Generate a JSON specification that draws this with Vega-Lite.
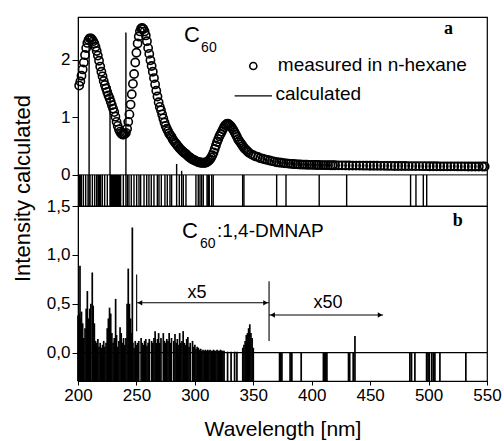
{
  "$schema": "https://vega.github.io/schema/vega-lite/v6.json",
  "padding": {"left": 10, "top": 16, "right": 4, "bottom": 0},
  "spacing": 0,
  "bounds": "flush",
  "config": {
    "font": "Liberation Sans",
    "view": {"stroke": "black", "strokeWidth": 1.2},
    "axis": {"domainColor": "black", "tickColor": "black", "labelColor": "black", "titleColor": "black", "labelFont": "Liberation Sans", "titleFont": "Liberation Sans", "grid": false, "labelFontSize": 17, "titleFontWeight": "normal", "titleFontSize": 22, "tickSize": 6, "labelPadding": 2, "labelFlush": false, "labelOverlap": false}
  },
  "datasets": {
    "meas": [
      {"wl":201,"v":1.55},{"wl":202,"v":1.62},{"wl":203,"v":1.72},{"wl":204,"v":1.83},{"wl":205,"v":1.95},{"wl":206,"v":2.08},{"wl":207,"v":2.2},{"wl":208,"v":2.29},{"wl":209,"v":2.34},{"wl":210,"v":2.37},
      {"wl":211,"v":2.37},{"wl":212,"v":2.35},{"wl":213,"v":2.32},{"wl":214,"v":2.28},{"wl":215,"v":2.22},{"wl":216,"v":2.15},{"wl":217,"v":2.07},{"wl":218,"v":1.98},{"wl":219,"v":1.88},{"wl":220,"v":1.79},
      {"wl":221,"v":1.71},{"wl":222,"v":1.63},{"wl":223,"v":1.56},{"wl":224,"v":1.5},{"wl":225,"v":1.44},{"wl":226,"v":1.38},{"wl":227,"v":1.33},{"wl":228,"v":1.27},{"wl":229,"v":1.21},{"wl":230,"v":1.15},
      {"wl":231,"v":1.09},{"wl":232,"v":1.01},{"wl":233,"v":0.92},{"wl":234,"v":0.85},{"wl":235,"v":0.79},{"wl":236,"v":0.75},{"wl":237,"v":0.72},{"wl":238,"v":0.7},{"wl":239,"v":0.7},{"wl":240,"v":0.71},
      {"wl":241,"v":0.73},{"wl":242,"v":0.8},{"wl":243,"v":0.92},{"wl":244,"v":1.05},{"wl":245,"v":1.22},{"wl":246,"v":1.4},{"wl":247,"v":1.58},{"wl":248,"v":1.75},{"wl":249,"v":1.95},{"wl":250,"v":2.12},
      {"wl":251,"v":2.28},{"wl":252,"v":2.4},{"wl":253,"v":2.49},{"wl":254,"v":2.54},{"wl":255,"v":2.55},{"wl":256,"v":2.53},{"wl":257,"v":2.49},{"wl":258,"v":2.42},{"wl":259,"v":2.32},{"wl":260,"v":2.2},
      {"wl":261,"v":2.1},{"wl":262,"v":1.99},{"wl":263,"v":1.89},{"wl":264,"v":1.79},{"wl":265,"v":1.68},{"wl":266,"v":1.57},{"wl":267,"v":1.46},{"wl":268,"v":1.36},{"wl":269,"v":1.26},{"wl":270,"v":1.18},
      {"wl":271,"v":1.12},{"wl":272,"v":1.05},{"wl":273,"v":0.98},{"wl":274,"v":0.91},{"wl":275,"v":0.85},{"wl":276,"v":0.8},{"wl":277,"v":0.76},{"wl":278,"v":0.72},{"wl":279,"v":0.69},{"wl":280,"v":0.66},
      {"wl":281,"v":0.62},{"wl":282,"v":0.59},{"wl":283,"v":0.56},{"wl":284,"v":0.54},{"wl":285,"v":0.51},{"wl":286,"v":0.49},{"wl":287,"v":0.46},{"wl":288,"v":0.44},{"wl":289,"v":0.42},{"wl":290,"v":0.4},
      {"wl":291,"v":0.38},{"wl":292,"v":0.37},{"wl":293,"v":0.35},{"wl":294,"v":0.33},{"wl":295,"v":0.31},{"wl":296,"v":0.3},{"wl":297,"v":0.28},{"wl":298,"v":0.27},{"wl":299,"v":0.26},{"wl":300,"v":0.25},
      {"wl":301,"v":0.24},{"wl":302,"v":0.23},{"wl":303,"v":0.22},{"wl":304,"v":0.22},{"wl":305,"v":0.21},{"wl":306,"v":0.21},{"wl":307,"v":0.21},{"wl":308,"v":0.21},{"wl":309,"v":0.21},{"wl":310,"v":0.22},
      {"wl":311,"v":0.23},{"wl":312,"v":0.25},{"wl":313,"v":0.27},{"wl":314,"v":0.3},{"wl":315,"v":0.34},{"wl":316,"v":0.39},{"wl":317,"v":0.45},{"wl":318,"v":0.51},{"wl":319,"v":0.57},{"wl":320,"v":0.62},
      {"wl":321,"v":0.67},{"wl":322,"v":0.71},{"wl":323,"v":0.75},{"wl":324,"v":0.79},{"wl":325,"v":0.83},{"wl":326,"v":0.86},{"wl":327,"v":0.88},{"wl":328,"v":0.89},{"wl":329,"v":0.88},{"wl":330,"v":0.86},
      {"wl":331,"v":0.84},{"wl":332,"v":0.81},{"wl":333,"v":0.78},{"wl":334,"v":0.74},{"wl":335,"v":0.7},{"wl":336,"v":0.66},{"wl":337,"v":0.62},{"wl":338,"v":0.59},{"wl":339,"v":0.56},{"wl":340,"v":0.53},
      {"wl":341,"v":0.5},{"wl":342,"v":0.47},{"wl":343,"v":0.45},{"wl":344,"v":0.43},{"wl":345,"v":0.41},{"wl":346,"v":0.39},{"wl":348,"v":0.36},{"wl":350,"v":0.34},{"wl":352,"v":0.32},{"wl":354,"v":0.31},
      {"wl":356,"v":0.29},{"wl":358,"v":0.28},{"wl":360,"v":0.27},{"wl":362,"v":0.26},{"wl":364,"v":0.25},{"wl":366,"v":0.24},{"wl":368,"v":0.23},{"wl":370,"v":0.22},{"wl":372,"v":0.215},{"wl":374,"v":0.21},
      {"wl":376,"v":0.205},{"wl":378,"v":0.2},{"wl":380,"v":0.196},{"wl":382,"v":0.192},{"wl":384,"v":0.189},{"wl":386,"v":0.186},{"wl":388,"v":0.183},{"wl":390,"v":0.181},{"wl":392,"v":0.179},{"wl":394,"v":0.177},
      {"wl":396,"v":0.176},{"wl":398,"v":0.175},{"wl":400,"v":0.174},{"wl":402,"v":0.173},{"wl":404,"v":0.172},{"wl":406,"v":0.171},{"wl":408,"v":0.17},{"wl":410,"v":0.17},{"wl":412,"v":0.169},{"wl":414,"v":0.169},
      {"wl":416,"v":0.168},{"wl":418,"v":0.168},{"wl":420,"v":0.167},{"wl":423,"v":0.166},{"wl":426,"v":0.165},{"wl":429,"v":0.164},{"wl":432,"v":0.163},{"wl":435,"v":0.162},{"wl":438,"v":0.161},{"wl":441,"v":0.161},
      {"wl":444,"v":0.16},{"wl":447,"v":0.16},{"wl":450,"v":0.159},{"wl":453,"v":0.158},{"wl":456,"v":0.158},{"wl":459,"v":0.157},{"wl":462,"v":0.157},{"wl":465,"v":0.156},{"wl":468,"v":0.156},{"wl":471,"v":0.155},
      {"wl":474,"v":0.155},{"wl":477,"v":0.154},{"wl":480,"v":0.154},{"wl":483,"v":0.153},{"wl":486,"v":0.153},{"wl":489,"v":0.152},{"wl":492,"v":0.152},{"wl":495,"v":0.151},{"wl":498,"v":0.151},{"wl":501,"v":0.15},
      {"wl":504,"v":0.15},{"wl":507,"v":0.15},{"wl":510,"v":0.149},{"wl":513,"v":0.149},{"wl":516,"v":0.148},{"wl":519,"v":0.148},{"wl":522,"v":0.148},{"wl":525,"v":0.147},{"wl":528,"v":0.147},{"wl":531,"v":0.147},
      {"wl":534,"v":0.146},{"wl":537,"v":0.146},{"wl":540,"v":0.146},{"wl":543,"v":0.145},{"wl":546,"v":0.145},{"wl":548,"v":0.145}
    ],
    "sticksA": [
      {"wl":200.9,"h":0},{"wl":201.4,"h":0},{"wl":201.9,"h":0},{"wl":202.9,"h":0},{"wl":204.6,"h":0},{"wl":206.6,"h":0},{"wl":208.6,"h":0},{"wl":209.5,"h":2.36},{"wl":210.3,"h":0},{"wl":212.3,"h":0},{"wl":214.3,"h":0},
      {"wl":216,"h":0},{"wl":217.1,"h":0},{"wl":217.7,"h":0},{"wl":218.3,"h":0},{"wl":218.9,"h":0},{"wl":219.4,"h":0},{"wl":220.8,"h":0},{"wl":222.8,"h":0},{"wl":225.1,"h":0},{"wl":227.4,"h":1.54},{"wl":227.9,"h":0},{"wl":228.5,"h":0},{"wl":229.1,"h":0},{"wl":229.7,"h":0},
      {"wl":230.2,"h":0},{"wl":230.8,"h":0},{"wl":231.3,"h":0},{"wl":231.9,"h":0},{"wl":232.5,"h":0},{"wl":233.1,"h":0},{"wl":233.6,"h":0},{"wl":234.2,"h":0},{"wl":234.7,"h":0},{"wl":235.1,"h":0},{"wl":235.7,"h":0},{"wl":236.5,"h":0},{"wl":238.8,"h":0},{"wl":241,"h":2.47},{"wl":242.2,"h":0},{"wl":243.6,"h":0},
      {"wl":245.6,"h":0},{"wl":247.9,"h":0},{"wl":250.2,"h":0},{"wl":252.2,"h":0},{"wl":253.6,"h":0},{"wl":256.5,"h":0},{"wl":258.8,"h":0},{"wl":260.7,"h":0},{"wl":262.7,"h":0},{"wl":265,"h":0},
      {"wl":267.9,"h":0},{"wl":269.3,"h":0},{"wl":271.3,"h":0},{"wl":274.4,"h":0},{"wl":276.4,"h":0},{"wl":278.7,"h":0},{"wl":280.1,"h":0},{"wl":284.4,"h":0.19},{"wl":286.7,"h":0},{"wl":288.7,"h":0.07},
      {"wl":290.1,"h":0},{"wl":292.4,"h":0},{"wl":300.9,"h":0},{"wl":302.9,"h":0},{"wl":304.4,"h":0},{"wl":305.8,"h":0},{"wl":307.2,"h":0},{"wl":310.4,"h":0},{"wl":311.2,"h":0},{"wl":311.8,"h":0},{"wl":312.3,"h":0},
      {"wl":314.4,"h":0},{"wl":315.7,"h":0},{"wl":340.9,"h":0},{"wl":342,"h":0},{"wl":370,"h":0},{"wl":378,"h":0},{"wl":406.4,"h":0},{"wl":429.9,"h":0},{"wl":484.6,"h":0},{"wl":489.2,"h":0},
      {"wl":495.5,"h":0},{"wl":498.4,"h":0}
    ],
    "sticksB": [
      {"wl":200,"h":0.38},{"wl":200.6,"h":0.36},{"wl":201.2,"h":0.4},{"wl":201.7,"h":0.89},{"wl":202.3,"h":0.35},{"wl":203,"h":0.42},{"wl":204,"h":0.3},{"wl":205,"h":0.15},{"wl":206,"h":0.25},{"wl":207,"h":0.45},
      {"wl":208,"h":0.63},{"wl":209,"h":0.35},{"wl":210,"h":0.45},{"wl":211,"h":0.5},{"wl":212.2,"h":0.82},{"wl":213,"h":0.48},{"wl":214,"h":0.3},{"wl":215,"h":0.12},{"wl":216,"h":0.1},{"wl":217,"h":0.14},
      {"wl":218,"h":0.06},{"wl":219,"h":0.1},{"wl":220,"h":0.05},{"wl":221,"h":0.08},{"wl":222,"h":0.12},{"wl":223,"h":0.06},{"wl":224,"h":0.1},{"wl":225,"h":0.25},{"wl":226,"h":0.35},{"wl":227,"h":0.46},
      {"wl":228,"h":0.4},{"wl":229,"h":0.2},{"wl":230,"h":0.1},{"wl":231,"h":0.15},{"wl":232.2,"h":0.55},{"wl":233,"h":0.18},{"wl":234,"h":0.06},{"wl":235,"h":0.12},{"wl":236,"h":0.26},{"wl":237,"h":0.2},
      {"wl":238,"h":0.1},{"wl":239,"h":0.15},{"wl":240,"h":0.08},{"wl":241,"h":0.15},{"wl":242,"h":0.5},{"wl":243,"h":0.86},{"wl":244,"h":0.5},{"wl":245,"h":0.35},{"wl":246,"h":0.2},{"wl":246.5,"h":1.28},
      {"wl":247,"h":0.1},{"wl":248,"h":0.05},{"wl":249,"h":0.12},{"wl":250,"h":0.08},{"wl":251,"h":0.1},{"wl":252,"h":0.12},{"wl":254,"h":0.15},{"wl":255,"h":0.1},{"wl":256,"h":0.08},{"wl":257,"h":0.12},
      {"wl":258,"h":0.14},{"wl":259,"h":0.07},{"wl":260,"h":0.1},{"wl":261,"h":0.14},{"wl":263,"h":0.12},{"wl":264,"h":0.1},{"wl":265,"h":0.15},{"wl":266,"h":0.22},{"wl":267,"h":0.1},{"wl":268,"h":0.14},
      {"wl":269,"h":0.2},{"wl":270,"h":0.1},{"wl":271,"h":0.15},{"wl":273,"h":0.2},{"wl":274,"h":0.12},{"wl":275,"h":0.1},{"wl":276,"h":0.14},{"wl":277,"h":0.12},{"wl":278,"h":0.2},{"wl":279,"h":0.1},
      {"wl":280,"h":0.15},{"wl":282,"h":0.12},{"wl":283,"h":0.19},{"wl":284,"h":0.1},{"wl":285,"h":0.14},{"wl":286,"h":0.08},{"wl":287,"h":0.2},{"wl":288,"h":0.1},{"wl":289,"h":0.12},{"wl":290,"h":0.22},
      {"wl":291,"h":0.1},{"wl":292,"h":0.08},{"wl":293,"h":0.14},{"wl":294,"h":0.16},{"wl":295,"h":0.06},{"wl":296,"h":0.1},{"wl":298,"h":0.12},{"wl":299,"h":0.06},{"wl":300,"h":0.08},{"wl":301,"h":0.04},
      {"wl":302,"h":0.06},{"wl":303,"h":0.05},{"wl":304,"h":0.03},{"wl":305,"h":0.04},{"wl":306,"h":0.02},{"wl":307,"h":0.03},{"wl":308,"h":0.02},{"wl":309,"h":0.03},{"wl":310,"h":0.02},{"wl":311,"h":0.03},
      {"wl":312,"h":0.02},{"wl":313,"h":0.03},{"wl":314,"h":0.02},{"wl":315,"h":0.02},{"wl":316,"h":0.03},{"wl":317,"h":0.02},{"wl":318,"h":0.02},{"wl":319,"h":0.03},{"wl":320,"h":0.02},{"wl":321,"h":0.02},
      {"wl":322,"h":0.03},{"wl":323,"h":0.02},{"wl":324,"h":0.02},{"wl":325,"h":0.02},{"wl":328,"h":0.01},{"wl":331,"h":0.01},{"wl":334,"h":0.01},{"wl":336,"h":0.01},{"wl":341,"h":0.05},{"wl":342,"h":0.08},
      {"wl":343,"h":0.12},{"wl":344,"h":0.18},{"wl":345,"h":0.2},{"wl":346,"h":0.25},{"wl":347,"h":0.29},{"wl":348,"h":0.2},{"wl":349,"h":0.15},{"wl":350,"h":0.05},
      {"wl":372.5,"h":0},{"wl":373.5,"h":0},{"wl":374.5,"h":0},{"wl":381.5,"h":0},{"wl":383,"h":0},{"wl":391,"h":0},{"wl":410,"h":0},{"wl":411,"h":0},{"wl":412,"h":0},{"wl":413,"h":0},
      {"wl":431.5,"h":0},{"wl":432.5,"h":0},{"wl":435.5,"h":0},{"wl":437,"h":0.17},{"wl":484,"h":0},{"wl":485.4,"h":0},{"wl":488.3,"h":0},{"wl":498.3,"h":0},{"wl":499.5,"h":0},{"wl":500.5,"h":0},
      {"wl":502.6,"h":0},{"wl":504,"h":0},{"wl":505.4,"h":0},{"wl":509.7,"h":0},{"wl":531.9,"h":0}
    ]
  },
  "vconcat": [
    {
      "width": 409,
      "height": 189,
      "layer": [
        {
          "data": {"values": [{"a": 200, "b": 550, "v": 0}]},
          "mark": {"type": "rule", "color": "black", "strokeWidth": 1},
          "encoding": {
            "x": {"field": "a", "type": "quantitative", "scale": {"domain": [200, 550], "nice": false, "zero": false}, "axis": null},
            "x2": {"field": "b"},
            "y": {"field": "v", "type": "quantitative", "scale": {"domain": [-0.54, 2.74], "nice": false, "zero": false}, "axis": {"values": [0, 1, 2], "format": "d", "title": null}}
          }
        },
        {
          "data": {"name": "sticksA"},
          "mark": {"type": "rule", "color": "black", "strokeWidth": 1.4},
          "encoding": {
            "x": {"field": "wl", "type": "quantitative"},
            "y": {"field": "h", "type": "quantitative"},
            "y2": {"datum": -0.54}
          }
        },
        {
          "data": {"name": "meas"},
          "mark": {"type": "point", "shape": "circle", "filled": false, "color": "black", "size": 68, "strokeWidth": 1.6, "opacity": 1},
          "encoding": {
            "x": {"field": "wl", "type": "quantitative"},
            "y": {"field": "v", "type": "quantitative"}
          }
        },
        {
          "data": {"values": [{"wl": 350, "v": 1.89}]},
          "mark": {"type": "point", "shape": "circle", "filled": false, "color": "black", "size": 50, "strokeWidth": 1.6, "opacity": 1},
          "encoding": {
            "x": {"field": "wl", "type": "quantitative"},
            "y": {"field": "v", "type": "quantitative"}
          }
        },
        {
          "data": {"values": [{"a": 334, "b": 366, "v": 1.37}]},
          "mark": {"type": "rule", "color": "black", "strokeWidth": 1.2},
          "encoding": {
            "x": {"field": "a", "type": "quantitative"},
            "x2": {"field": "b"},
            "y": {"field": "v", "type": "quantitative"}
          }
        },
        {
          "data": {"values": [{"wl": 371, "v": 1.9, "t": "measured in n-hexane"}, {"wl": 369, "v": 1.41, "t": "calculated"}]},
          "mark": {"type": "text", "align": "left", "baseline": "middle", "fontSize": 19, "font": "Liberation Sans", "color": "black"},
          "encoding": {
            "x": {"field": "wl", "type": "quantitative"},
            "y": {"field": "v", "type": "quantitative"},
            "text": {"field": "t"}
          }
        },
        {
          "data": {"values": [{"wl": 297.5, "v": 2.43, "t": "C"}]},
          "mark": {"type": "text", "align": "center", "baseline": "middle", "fontSize": 22, "font": "Liberation Sans", "color": "black"},
          "encoding": {
            "x": {"field": "wl", "type": "quantitative"},
            "y": {"field": "v", "type": "quantitative"},
            "text": {"field": "t"}
          }
        },
        {
          "data": {"values": [{"wl": 312, "v": 2.2, "t": "60"}]},
          "mark": {"type": "text", "align": "center", "baseline": "middle", "fontSize": 14, "font": "Liberation Sans", "color": "black"},
          "encoding": {
            "x": {"field": "wl", "type": "quantitative"},
            "y": {"field": "v", "type": "quantitative"},
            "text": {"field": "t"}
          }
        },
        {
          "data": {"values": [{"wl": 517, "v": 2.53, "t": "a"}]},
          "mark": {"type": "text", "align": "center", "baseline": "middle", "fontSize": 18, "font": "Liberation Serif", "fontWeight": "bold", "color": "black"},
          "encoding": {
            "x": {"field": "wl", "type": "quantitative"},
            "y": {"field": "v", "type": "quantitative"},
            "text": {"field": "t"}
          }
        }
      ]
    },
    {
      "width": 409,
      "height": 175,
      "layer": [
        {
          "data": {"values": [{"a": 200, "b": 550, "v": 0}]},
          "mark": {"type": "rule", "color": "black", "strokeWidth": 1.2},
          "encoding": {
            "x": {"field": "a", "type": "quantitative", "scale": {"domain": [200, 550], "nice": false, "zero": false},
                  "axis": {"values": [200, 225, 250, 275, 300, 325, 350, 375, 400, 425, 450, 475, 500, 525, 550], "labelExpr": "datum.value % 50 == 0 ? datum.label : ''", "tickSize": 4, "labelFontSize": 17, "title": "Wavelength [nm]", "titleFontSize": 21, "titlePadding": 15}},
            "x2": {"field": "b"},
            "y": {"field": "v", "type": "quantitative", "scale": {"domain": [-0.29, 1.5], "nice": false, "zero": false},
                  "axis": {"values": [0, 0.5, 1, 1.5], "labelExpr": "replace(format(datum.value, '.1f'), '.', ',')", "title": "Intensity calculated", "titleY": -18, "titlePadding": 12}}
          }
        },
        {
          "data": {"name": "sticksB"},
          "mark": {"type": "rule", "color": "black", "strokeWidth": 1.7},
          "encoding": {
            "x": {"field": "wl", "type": "quantitative"},
            "y": {"field": "h", "type": "quantitative"},
            "y2": {"datum": -0.29}
          }
        },
        {
          "data": {"values": [{"a": 250, "b": 363.5, "v": 0.51}, {"a": 363.5, "b": 461, "v": 0.385}]},
          "mark": {"type": "rule", "color": "black", "strokeWidth": 1.1},
          "encoding": {
            "x": {"field": "a", "type": "quantitative"},
            "x2": {"field": "b"},
            "y": {"field": "v", "type": "quantitative"}
          }
        },
        {
          "data": {"values": [{"wl": 250.2, "lo": 0.22, "hi": 0.8}, {"wl": 363.5, "lo": 0.12, "hi": 0.73}]},
          "mark": {"type": "rule", "color": "black", "strokeWidth": 1.1},
          "encoding": {
            "x": {"field": "wl", "type": "quantitative"},
            "y": {"field": "lo", "type": "quantitative"},
            "y2": {"field": "hi"}
          }
        },
        {
          "data": {"values": [{"wl": 253, "v": 0.51, "s": "triangle-left"}, {"wl": 360.5, "v": 0.51, "s": "triangle-right"}, {"wl": 366.5, "v": 0.385, "s": "triangle-left"}, {"wl": 458.5, "v": 0.385, "s": "triangle-right"}]},
          "mark": {"type": "point", "filled": true, "color": "black", "size": 28, "opacity": 1},
          "encoding": {
            "x": {"field": "wl", "type": "quantitative"},
            "y": {"field": "v", "type": "quantitative"},
            "shape": {"field": "s", "type": "nominal", "scale": null, "legend": null}
          }
        },
        {
          "data": {"values": [{"wl": 301.8, "v": 0.61, "t": "x5"}, {"wl": 414, "v": 0.51, "t": "x50"}]},
          "mark": {"type": "text", "align": "center", "baseline": "middle", "fontSize": 18, "font": "Liberation Sans", "color": "black"},
          "encoding": {
            "x": {"field": "wl", "type": "quantitative"},
            "y": {"field": "v", "type": "quantitative"},
            "text": {"field": "t"}
          }
        },
        {
          "data": {"values": [{"wl": 295.8, "v": 1.24, "t": "C"}]},
          "mark": {"type": "text", "align": "center", "baseline": "middle", "fontSize": 22, "font": "Liberation Sans", "color": "black"},
          "encoding": {
            "x": {"field": "wl", "type": "quantitative"},
            "y": {"field": "v", "type": "quantitative"},
            "text": {"field": "t"}
          }
        },
        {
          "data": {"values": [{"wl": 311, "v": 1.11, "t": "60"}]},
          "mark": {"type": "text", "align": "center", "baseline": "middle", "fontSize": 14, "font": "Liberation Sans", "color": "black"},
          "encoding": {
            "x": {"field": "wl", "type": "quantitative"},
            "y": {"field": "v", "type": "quantitative"},
            "text": {"field": "t"}
          }
        },
        {
          "data": {"values": [{"wl": 318.9, "v": 1.24, "t": ":1,4-DMNAP"}]},
          "mark": {"type": "text", "align": "left", "baseline": "middle", "fontSize": 19, "font": "Liberation Sans", "color": "black"},
          "encoding": {
            "x": {"field": "wl", "type": "quantitative"},
            "y": {"field": "v", "type": "quantitative"},
            "text": {"field": "t"}
          }
        },
        {
          "data": {"values": [{"wl": 525, "v": 1.35, "t": "b"}]},
          "mark": {"type": "text", "align": "center", "baseline": "middle", "fontSize": 18, "font": "Liberation Serif", "fontWeight": "bold", "color": "black"},
          "encoding": {
            "x": {"field": "wl", "type": "quantitative"},
            "y": {"field": "v", "type": "quantitative"},
            "text": {"field": "t"}
          }
        }
      ]
    }
  ]
}
